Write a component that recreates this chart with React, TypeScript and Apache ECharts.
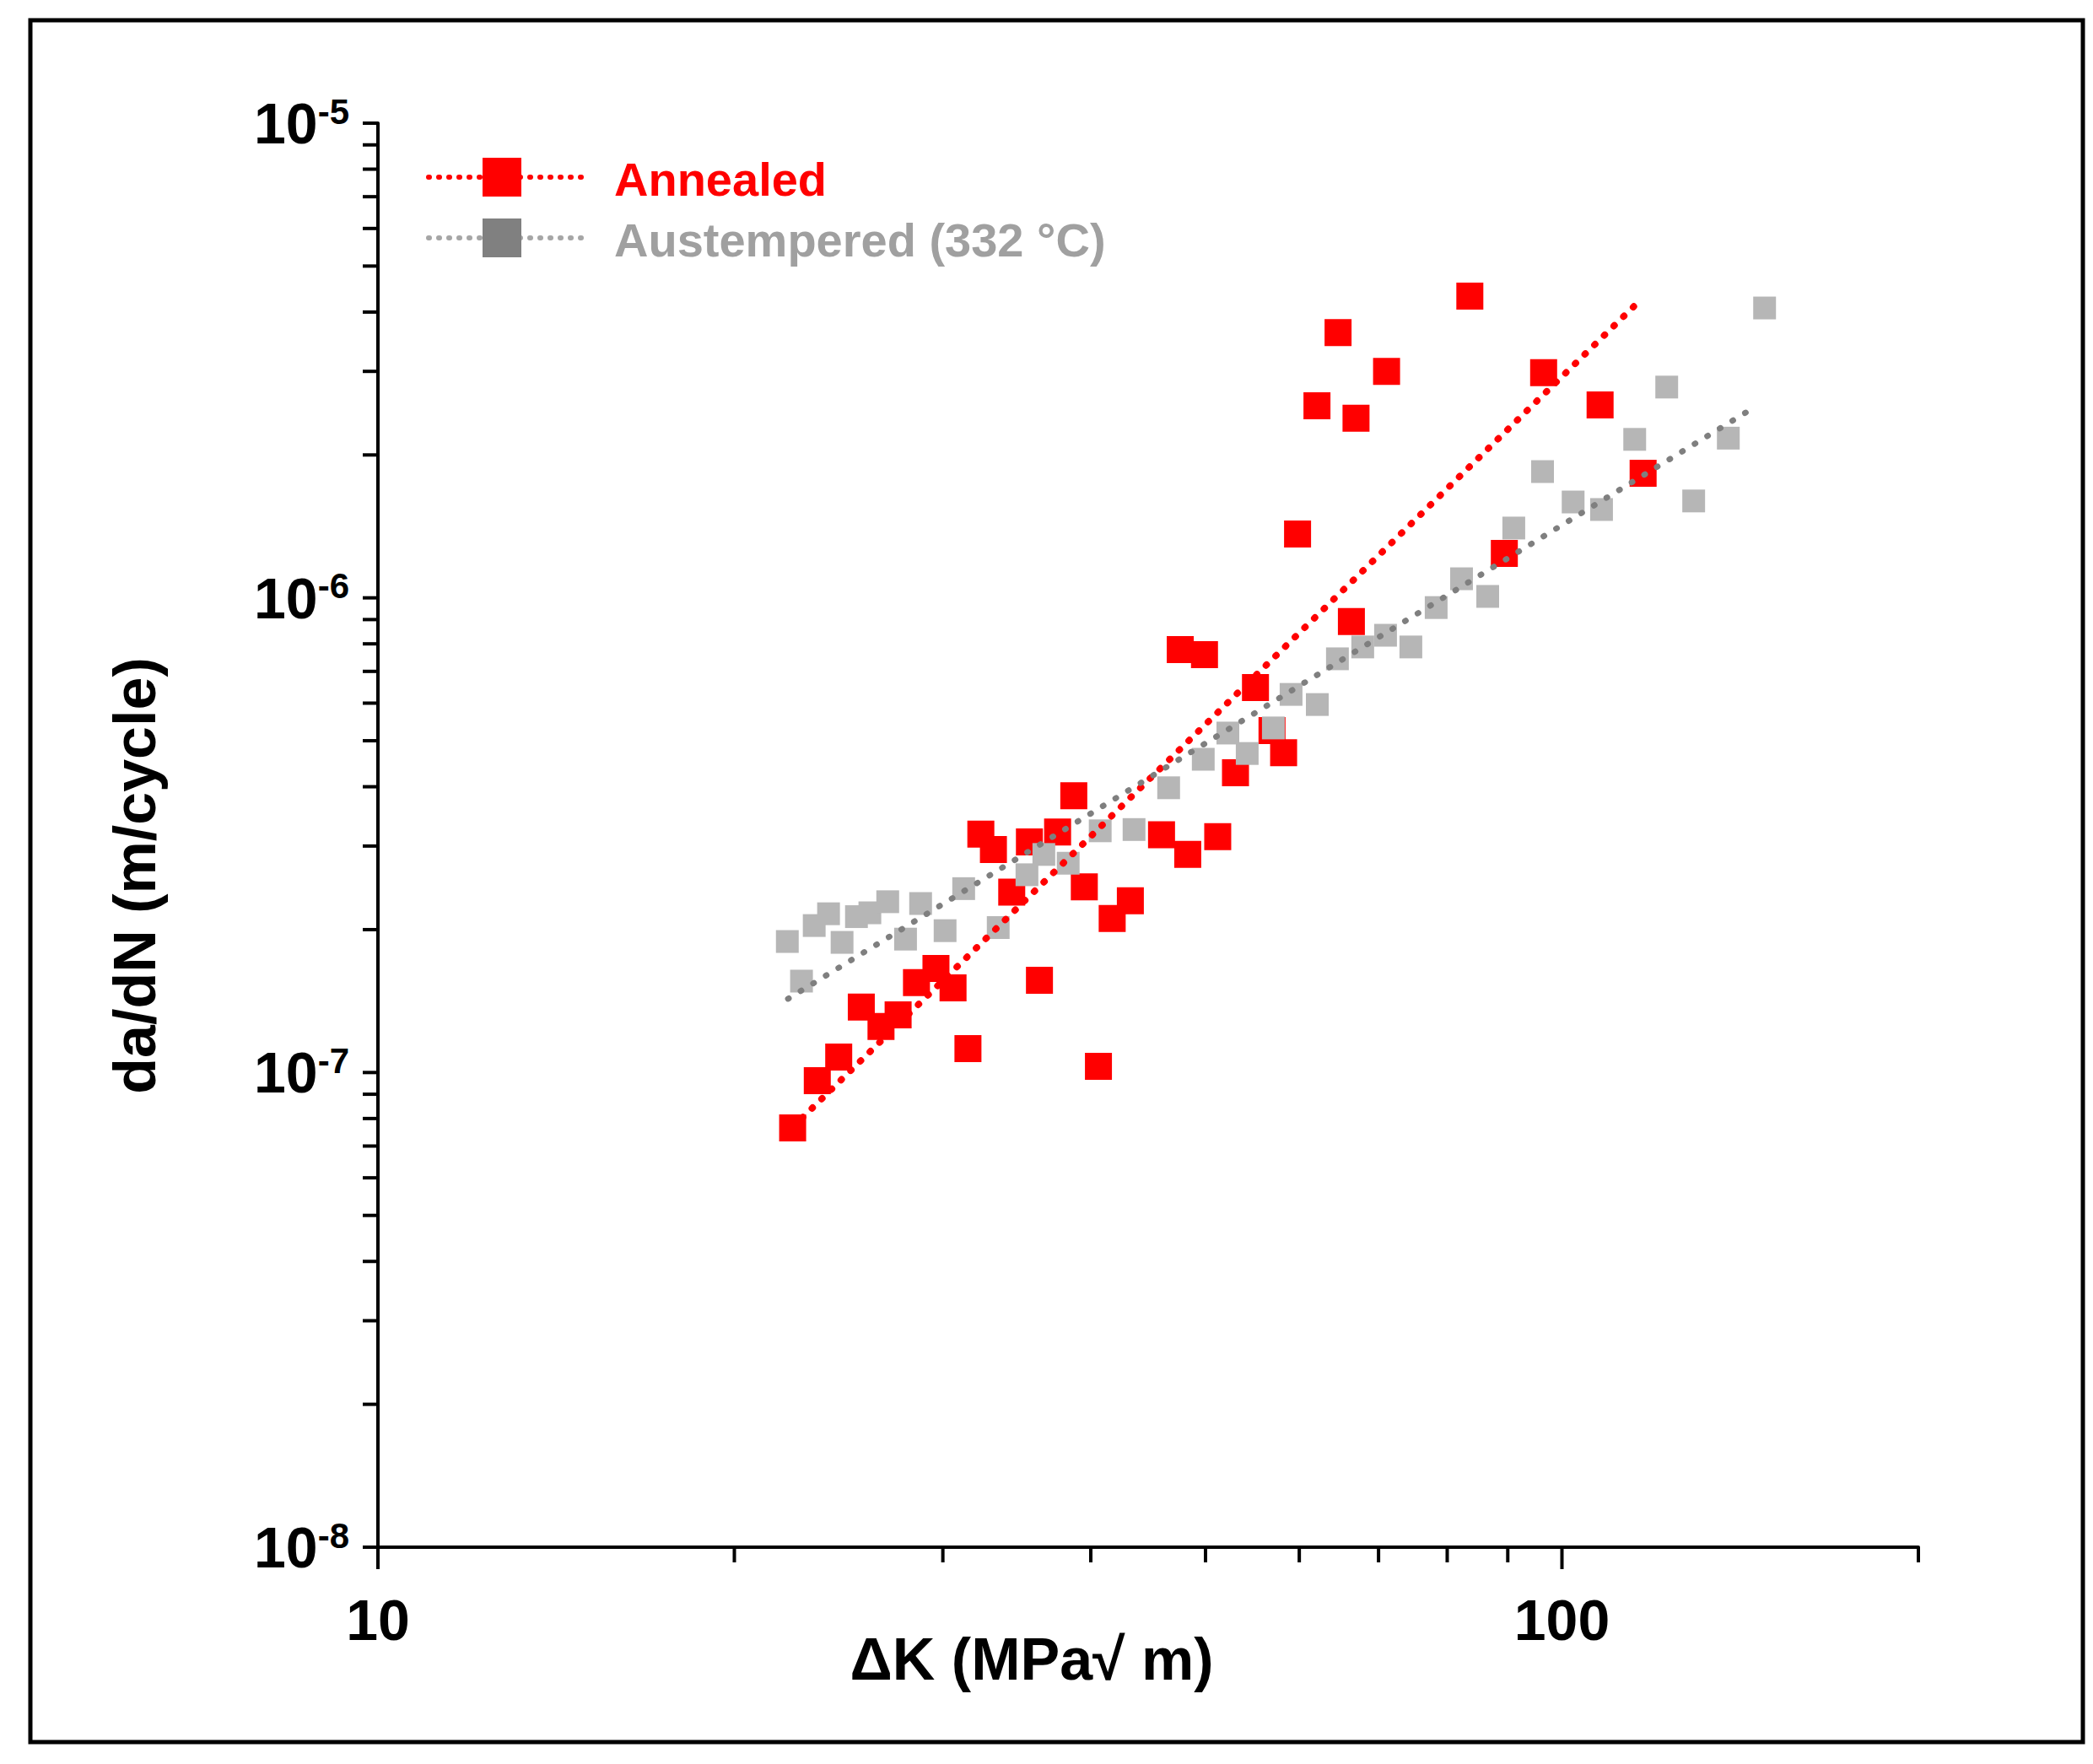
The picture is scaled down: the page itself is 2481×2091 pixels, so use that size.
import React, { useEffect, useRef } from 'react';
import * as echarts from 'echarts';

// ---------- data (ΔK in MPa√m, da/dN in m/cycle) ----------
const annealedDK = [22.4, 23.5, 24.5, 25.6, 26.6, 27.5, 28.5, 29.6, 30.6, 31.5, 32.3, 33.1, 34.3, 35.5, 36.2, 37.5, 38.7, 39.5, 40.6, 41.7, 43.2, 45.9, 47.6, 48.3, 49.9, 51.2, 53.0, 55.1, 56.9, 58.2, 59.8, 62.1, 64.7, 66.4, 67.0, 71.1, 83.6, 89.4, 96.5, 107.7, 117.1];
const annealedRate = [7.64e-8, 9.61e-8, 1.078e-7, 1.373e-7, 1.25e-7, 1.323e-7, 1.546e-7, 1.657e-7, 1.508e-7, 1.123e-7, 3.18e-7, 2.95e-7, 2.4e-7, 3.06e-7, 1.565e-7, 3.21e-7, 3.83e-7, 2.46e-7, 1.03e-7, 2.11e-7, 2.3e-7, 3.17e-7, 7.78e-7, 2.88e-7, 7.59e-7, 3.14e-7, 4.28e-7, 6.47e-7, 5.25e-7, 4.72e-7, 1.363e-6, 2.54e-6, 3.62e-6, 8.91e-7, 2.39e-6, 3.0e-6, 4.32e-6, 1.241e-6, 2.98e-6, 2.55e-6, 1.83e-6];

const austemperedDK = [22.17, 22.79, 23.36, 24.02, 24.66, 25.36, 26.03, 26.95, 27.9, 28.73, 30.13, 31.24, 33.41, 35.33, 36.51, 38.28, 40.74, 43.51, 46.54, 49.78, 52.22, 54.22, 57.05, 59.05, 62.14, 64.62, 67.88, 70.96, 74.54, 78.3, 82.26, 86.56, 91.06, 96.3, 102.2, 108.0, 115.2, 122.6, 129.2, 138.2, 148.3];
const austemperedRate = [1.888e-7, 1.558e-7, 2.04e-7, 2.16e-7, 1.88e-7, 2.13e-7, 2.17e-7, 2.29e-7, 1.91e-7, 2.27e-7, 1.99e-7, 2.44e-7, 2.02e-7, 2.61e-7, 2.88e-7, 2.76e-7, 3.23e-7, 3.25e-7, 3.98e-7, 4.57e-7, 5.19e-7, 4.7e-7, 5.32e-7, 6.26e-7, 5.96e-7, 7.44e-7, 7.88e-7, 8.34e-7, 7.88e-7, 9.54e-7, 1.097e-6, 1.007e-6, 1.403e-6, 1.845e-6, 1.592e-6, 1.535e-6, 2.157e-6, 2.78e-6, 1.6e-6, 2.17e-6, 4.08e-6];

// power-law trend lines (end points)
const annealedTrendDK = [22.4, 115];
const annealedTrendRate = [7.67e-8, 4.11e-6];
const austemperedTrendDK = [22.2, 145];
const austemperedTrendRate = [1.43e-7, 2.51e-6];

// axes
const xMin = 10;
const xMax = 200;
const yMin = 1e-8;
const yMax = 1e-5;
const xTickValues = [10, 20, 30, 40, 50, 60, 70, 80, 90, 100, 200];
const xMajorTickValues = [10, 100];
const xLabelValues = [10, 100];
const yTickValues = [
  1e-8, 2e-8, 3e-8, 4e-8, 5e-8, 6e-8, 7e-8, 8e-8, 9e-8,
  1e-7, 2e-7, 3e-7, 4e-7, 5e-7, 6e-7, 7e-7, 8e-7, 9e-7,
  1e-6, 2e-6, 3e-6, 4e-6, 5e-6, 6e-6, 7e-6, 8e-6, 9e-6,
  1e-5,
];
const yLabelValues = [1e-8, 1e-7, 1e-6, 1e-5];

const seriesNames = ['Annealed', 'Austempered (332 °C)'];
const xTitle = 'ΔK (MPa√ m)';
const yTitle = 'da/dN (m/cycle)';

const FONT = '"Liberation Sans", Arial, Helvetica, sans-serif';
const RED = '#FF0000';
const GRAY_MARK = '#B6B6B6';
const GRAY_LINE = '#7F7F7F';

const zip = (xs: number[], ys: number[]) => xs.map((x, i) => [x, ys[i]]);
const isPow10 = (v: number) => Math.abs(Math.log10(v) - Math.round(Math.log10(v))) < 1e-6;

export default function App() {
  const ref = useRef<HTMLDivElement>(null);

  useEffect(() => {
    if (!ref.current) return;
    const chart = echarts.init(ref.current, null, { renderer: 'svg' });

    const gridLeft = 448;
    const gridTop = 146;
    const gridWidth = 1826;
    const gridHeight = 1688;

    const option: any = {
      animation: false,
      backgroundColor: '#ffffff',
      grid: { left: gridLeft, top: gridTop, width: gridWidth, height: gridHeight, containLabel: false },
      xAxis: {
        type: 'log',
        logBase: 10,
        min: xMin,
        max: xMax,
        axisLine: { show: true, lineStyle: { color: '#000', width: 4 } },
        axisTick: { show: false },
        minorTick: { show: false },
        splitLine: { show: false },
        axisLabel: {
          margin: 52,
          fontSize: 68,
          fontWeight: 'bold',
          fontFamily: FONT,
          color: '#000',
          showMinLabel: true,
          showMaxLabel: true,
          formatter: (v: number) =>
            xLabelValues.some((l) => Math.abs(l - v) / l < 1e-6) ? String(Math.round(v)) : '',
        },
      },
      yAxis: {
        type: 'log',
        logBase: 10,
        min: yMin,
        max: yMax,
        axisLine: { show: true, lineStyle: { color: '#000', width: 4 } },
        axisTick: { show: false },
        minorTick: { show: false },
        splitLine: { show: false },
        axisLabel: {
          margin: 34,
          color: '#000',
          fontFamily: FONT,
          fontWeight: 'bold',
          fontSize: 68,
          formatter: (v: number) => {
            if (!isPow10(v) || !yLabelValues.some((l) => Math.abs(Math.log10(l) - Math.log10(v)) < 1e-6)) return '';
            return '{b|10}{s|' + Math.round(Math.log10(v)) + '}';
          },
          rich: {
            b: { fontSize: 68, fontWeight: 'bold', fontFamily: FONT, color: '#000', lineHeight: 70 },
            s: { fontSize: 42, fontWeight: 'bold', fontFamily: FONT, color: '#000', lineHeight: 44, verticalAlign: 'top' },
          },
        },
      },
      series: [
        {
          name: seriesNames[0],
          type: 'scatter',
          data: zip(annealedDK, annealedRate),
          symbol: 'rect',
          symbolSize: 32,
          itemStyle: { color: RED, opacity: 1 },
          z: 2,
        },
        {
          name: seriesNames[1],
          type: 'scatter',
          data: zip(austemperedDK, austemperedRate),
          symbol: 'rect',
          symbolSize: 27,
          itemStyle: { color: GRAY_MARK, opacity: 1 },
          z: 3,
        },
        {
          name: seriesNames[0] + ' trend',
          type: 'line',
          data: zip(annealedTrendDK, annealedTrendRate),
          showSymbol: false,
          symbol: 'none',
          lineStyle: { color: RED, width: 8, type: [1, 15], cap: 'round', opacity: 1 },
          z: 4,
        },
        {
          name: seriesNames[1] + ' trend',
          type: 'line',
          data: zip(austemperedTrendDK, austemperedTrendRate),
          showSymbol: false,
          symbol: 'none',
          lineStyle: { color: GRAY_LINE, width: 7, type: [1, 16.5], cap: 'round', opacity: 1 },
          z: 5,
        },
        {
          name: 'x ticks',
          type: 'custom',
          silent: true,
          clip: false,
          data: xTickValues.map((v) => [v, yMin]),
          renderItem: (params: any, api: any) => {
            const v = api.value(0);
            const p = api.coord([v, yMin]);
            const len = xMajorTickValues.includes(Math.round(v)) ? 26 : 18;
            return {
              type: 'line',
              shape: { x1: p[0], y1: p[1], x2: p[0], y2: p[1] + len },
              style: { stroke: '#000', lineWidth: 4 },
            };
          },
          z: 6,
        },
        {
          name: 'y ticks',
          type: 'custom',
          silent: true,
          clip: false,
          data: yTickValues.map((v) => [xMin, v]),
          renderItem: (params: any, api: any) => {
            const v = api.value(1);
            const p = api.coord([xMin, v]);
            const len = 18;
            return {
              type: 'line',
              shape: { x1: p[0] - len, y1: p[1], x2: p[0], y2: p[1] },
              style: { stroke: '#000', lineWidth: 4 },
            };
          },
          z: 6,
        },
      ],
      graphic: [
        // outer frame
        {
          type: 'rect',
          shape: { x: 36, y: 24, width: 2433, height: 2041 },
          style: { fill: 'none', stroke: '#000', lineWidth: 5 },
          silent: true,
        },
        // y title
        {
          type: 'text',
          x: 160,
          y: 1038,
          rotation: Math.PI / 2,
          style: {
            text: yTitle,
            fontSize: 70,
            fontWeight: 'bold',
            fontFamily: FONT,
            fill: '#000',
            align: 'center',
            verticalAlign: 'middle',
          },
        },
        // x title
        {
          type: 'text',
          x: 1223,
          y: 1967,
          style: {
            text: xTitle,
            fontSize: 70,
            fontWeight: 'bold',
            fontFamily: FONT,
            fill: '#000',
            align: 'center',
            verticalAlign: 'middle',
          },
        },
        // legend: Annealed
        {
          type: 'line',
          shape: { x1: 508, y1: 210, x2: 696, y2: 210 },
          style: { stroke: RED, lineWidth: 6, lineDash: [1, 11], lineCap: 'round' },
        },
        {
          type: 'rect',
          shape: { x: 572, y: 187, width: 46, height: 46 },
          style: { fill: RED },
        },
        {
          type: 'text',
          x: 728,
          y: 212,
          style: {
            text: seriesNames[0],
            fontSize: 56,
            fontWeight: 'bold',
            fontFamily: FONT,
            fill: RED,
            align: 'left',
            verticalAlign: 'middle',
          },
        },
        // legend: Austempered
        {
          type: 'line',
          shape: { x1: 508, y1: 282, x2: 696, y2: 282 },
          style: { stroke: '#A6A6A6', lineWidth: 6, lineDash: [1, 11], lineCap: 'round' },
        },
        {
          type: 'rect',
          shape: { x: 572, y: 259, width: 46, height: 46 },
          style: { fill: '#808080' },
        },
        {
          type: 'text',
          x: 728,
          y: 284,
          style: {
            text: seriesNames[1],
            fontSize: 56,
            fontWeight: 'bold',
            fontFamily: FONT,
            fill: '#A0A0A0',
            align: 'left',
            verticalAlign: 'middle',
          },
        },
      ],
    };

    chart.setOption(option);
    return () => {
      chart.dispose();
    };
  }, []);

  return (
    <div
      ref={ref}
      style={{ position: 'absolute', left: 0, top: 0, width: 2481, height: 2091, background: '#fff' }}
    />
  );
}
